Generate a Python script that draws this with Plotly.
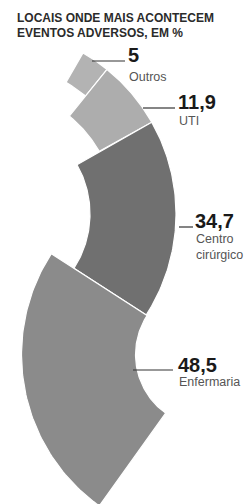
import numpy as np
import plotly.graph_objects as go

# ---- data ----
categories = ["Outros", "UTI", "Centro<br>cirúrgico", "Enfermaria"]
values = [5, 11.9, 34.7, 48.5]
value_labels = ["5", "11,9", "34,7", "48,5"]
title_lines = ["LOCAIS ONDE MAIS ACONTECEM", "EVENTOS ADVERSOS, EM %"]

# ---- style / layout ----
colors = ["#b3b3b3", "#adadad", "#707070", "#8b8b8b"]
DEG_PER_PCT = 1.8
OUTER_R = 186.0
band_width = [34, 60, 86, 114]
C1 = (-10.0, 214.0)
START1 = -60.0
CENTER_DIST = 259.0

leader_y = [61, 108, 227, 370]
leader_x0 = [92, 143, 179, 133]
leader_x1 = [125, 175, 193, 173]
num_x = [127, 177, 194, 177]
num_base = [62, 109, 228, 372]
lab_top = [71, 115, 233, 376]

FONT = "Liberation Sans, Arial, sans-serif"
W, H = 246, 504

fig = go.Figure()


def sector(cx, cy, r0, r1, a0, a1, n=80):
    t = np.radians(np.linspace(a0, a1, n))
    xo = cx + r1 * np.cos(t)
    yo = cy + r1 * np.sin(t)
    xi = cx + r0 * np.cos(t[::-1])
    yi = cy + r0 * np.sin(t[::-1])
    xs = np.concatenate([xo, xi, xo[:1]])
    ys = np.concatenate([yo, yi, yo[:1]])
    return xs, ys


# first three segments share centre C1, angles increase
ang = START1
for i in range(3):
    a0 = ang
    a1 = ang + values[i] * DEG_PER_PCT
    xs, ys = sector(C1[0], C1[1], OUTER_R - band_width[i], OUTER_R, a0, a1)
    fig.add_trace(go.Scatter(x=xs, y=ys, mode="lines", fill="toself",
                             fillcolor=colors[i], line=dict(color="white", width=1.2),
                             hoverinfo="skip", showlegend=False))
    ang = a1
# last segment: centre on the ray of the last boundary, angles decrease
rad = np.radians(ang)
C2 = (C1[0] + CENTER_DIST * np.cos(rad), C1[1] + CENTER_DIST * np.sin(rad))
b0 = ang + 180
b1 = b0 - values[3] * DEG_PER_PCT
xs, ys = sector(C2[0], C2[1], OUTER_R - band_width[3], OUTER_R, b0, b1)
fig.add_trace(go.Scatter(x=xs, y=ys, mode="lines", fill="toself",
                         fillcolor=colors[3], line=dict(color="white", width=1.2),
                         hoverinfo="skip", showlegend=False))

# leaders and labels
NUM_FS = 20
LAB_FS = 12.5
for i in range(4):
    fig.add_shape(type="line", x0=leader_x0[i], x1=leader_x1[i], y0=leader_y[i], y1=leader_y[i],
                  line=dict(color="#333333", width=1.2))
    fig.add_annotation(x=num_x[i], y=num_base[i] - 0.35 * NUM_FS, text=value_labels[i], showarrow=False,
                       xanchor="left", yanchor="middle", borderpad=0,
                       font=dict(family=FONT, size=NUM_FS, color="#1a1a1a", weight="bold"))
    fig.add_annotation(x=num_x[i] + 1, y=lab_top[i] - 0.19 * LAB_FS, text=categories[i], showarrow=False,
                       xanchor="left", yanchor="top", align="left", borderpad=0,
                       font=dict(family=FONT, size=LAB_FS, color="#555555"))

TITLE_FS = 12
for j, line in enumerate(title_lines):
    fig.add_annotation(x=16, y=18 + j * 14.5, text=line, showarrow=False,
                       xanchor="left", yanchor="middle", borderpad=0,
                       font=dict(family=FONT, size=TITLE_FS, color="#2b2b2b", weight="bold"))

fig.update_layout(
    width=W, height=H, margin=dict(l=0, r=0, t=0, b=0),
    paper_bgcolor="white", plot_bgcolor="white",
    xaxis=dict(range=[0, W], visible=False, fixedrange=True),
    yaxis=dict(range=[H, 0], visible=False, fixedrange=True),
)

fig.write_html("out.html", config={"displayModeBar": False},
               post_script="document.body.style.margin='0';")
